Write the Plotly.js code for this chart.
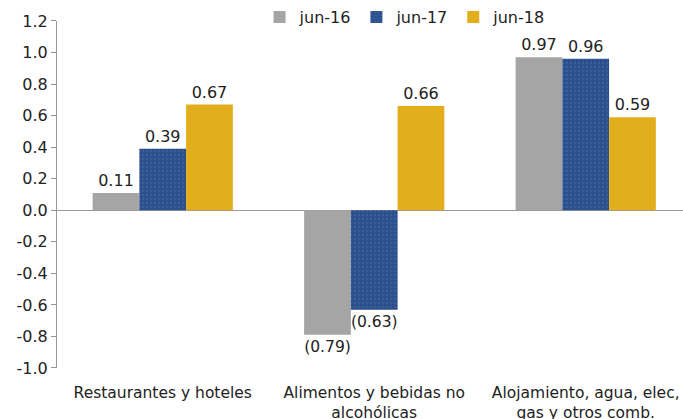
<!DOCTYPE html>
<html><head><meta charset="utf-8">
<script src="https://cdn.plot.ly/plotly-3.0.1.min.js"></script>
<style>html,body{margin:0;padding:0;background:#fff}#chart{width:683px;height:419px}</style>
</head><body><div id="chart"></div>
<script>
const categories = ["Restaurantes y hoteles", "Alimentos y bebidas no<br>alcohólicas", "Alojamiento, agua, elec,<br>gas y otros comb."];
const seriesNames = ["jun-16", "jun-17", "jun-18"];
const jun16 = [0.11, -0.79, 0.97];
const jun17 = [0.39, -0.63, 0.96];
const jun18 = [0.67, 0.66, 0.59];
const yTicks = [-1.0, -0.8, -0.6, -0.4, -0.2, 0.0, 0.2, 0.4, 0.6, 0.8, 1.0, 1.2];

const colors = ["#A5A5A5", "#2B4F8A", "#E3AE1B"];
const fmt = v => v < 0 ? "(" + Math.abs(v).toFixed(2) + ")" : v.toFixed(2);
const font = {family: "DejaVu Sans", size: 16, color: "#222"};

const data = [jun16, jun17, jun18].map((vals, i) => ({
  type: "bar",
  name: seriesNames[i],
  x: [0, 1, 2],
  y: vals,
  text: vals.map(fmt),
  textposition: "outside",
  textfont: font,
  cliponaxis: false,
  marker: Object.assign({color: colors[i], line: {width: 0}},
    i === 1 ? {pattern: {shape: ".", fgcolor: "#3a5f9c", bgcolor: colors[1], size: 4, solidity: 0.3}} : {})
}));

const layout = {
  width: 683, height: 419,
  margin: {l: 57, r: 0, t: 0, b: 51},
  barmode: "group",
  bargap: 0.337,
  bargroupgap: 0,
  showlegend: true,
  legend: {orientation: "h", x: 0.556, xref: "paper", xanchor: "center",
           y: 0.9565, yref: "paper", yanchor: "middle",
           font: font, itemwidth: 30, traceorder: "normal", tracegroupgap: 0},
  font: font,
  xaxis: {
    range: [-0.5, 2.46],
    tickvals: [0, 1, 2],
    ticktext: categories,
    tickangle: 0,
    showline: false, showgrid: false, zeroline: false, ticks: "",
    ticklabelstandoff: 13,
    tickfont: {family: "DejaVu Sans", size: 15.5, color: "#222"},
    fixedrange: true
  },
  yaxis: {
    domain: [0, 0.9457],
    range: [-1.0, 1.2],
    tickvals: yTicks,
    ticktext: yTicks.map(v => v.toFixed(1)),
    showline: true, linecolor: "#999", linewidth: 1,
    ticks: "outside", ticklen: 5, tickcolor: "#999",
    showgrid: false,
    zeroline: true, zerolinecolor: "#999", zerolinewidth: 1,
    tickfont: font, automargin: false
  },
  plot_bgcolor: "#fff", paper_bgcolor: "#fff"
};
Plotly.newPlot("chart", data, layout, {displayModeBar: false, staticPlot: true});
</script></body></html>
